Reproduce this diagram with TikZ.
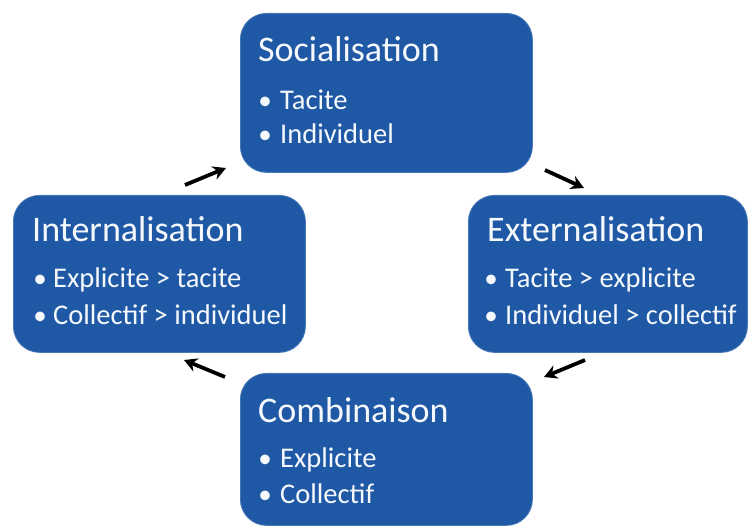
\documentclass[tikz,border=0pt]{standalone}
\usepackage{fontspec}
\setmainfont{Carlito}
\usetikzlibrary{arrows.meta}
\definecolor{boxblue}{RGB}{31,89,165}
\definecolor{boxedge}{RGB}{70,120,185}
\definecolor{textwhite}{RGB}{245,248,252}
% bullet drawn left of the text, centred #1/2 before the text start
\newcommand\bul[1]{\llap{\makebox[#1][c]{\scalebox{0.95}{\textbullet}}}}
\begin{document}
\begin{tikzpicture}[x=1pt,y=-1pt,
  stagebox/.style={draw=boxedge, line width=0.8pt, fill=boxblue, rounded corners=26pt, inner sep=0pt, anchor=north west},
  titletext/.style={anchor=base west, inner sep=0pt, text=textwhite, font=\fontsize{36}{40}\selectfont},
  itemtext/.style={anchor=base west, inner sep=0pt, text=textwhite, font=\fontsize{28.5}{32}\selectfont},
  cyclearrow/.style={line width=3.8pt, -{Stealth[length=13pt,width=14pt]}}]
\useasboundingbox (0,0) rectangle (748,526);
% boxes
\node[stagebox, minimum width=292pt, minimum height=159pt] (soc) at (240,13) {};
\node[stagebox, minimum width=292pt, minimum height=157pt] (int) at (13,195) {};
\node[stagebox, minimum width=279pt, minimum height=157pt] (ext) at (468,195) {};
\node[stagebox, minimum width=292pt, minimum height=152pt] (com) at (240,373) {};
% Socialisation
\node[titletext] (soct) at (258,62) {Socialisation};
\node[itemtext] (soc1) at (280,110) {\bul{30pt}Tacite};
\node[itemtext] (soc2) at (280,144) {\bul{30pt}Individuel};
% Internalisation
\node[titletext] (intt) at (32,242) {Internalisation};
\node[itemtext] (int1) at (53,288) {\bul{26pt}Explicite > tacite};
\node[itemtext] (int2) at (53,325) {\bul{26pt}Collectif > individuel};
% Externalisation
\node[titletext] (extt) at (487,242) {Externalisation};
\node[itemtext] (ext1) at (505,288) {\bul{28pt}Tacite > explicite};
\node[itemtext] (ext2) at (505,325) {\bul{28pt}Individuel > collectif};
% Combinaison
\node[titletext] (comt) at (258,423) {Combinaison};
\node[itemtext] (com1) at (280,468) {\bul{30pt}Explicite};
\node[itemtext] (com2) at (280,504) {\bul{30pt}Collectif};
% arrows
\coordinate (a1s) at (185,185); \coordinate (a1e) at (226,168);
\coordinate (a2s) at (545,170); \coordinate (a2e) at (584,188);
\coordinate (a3s) at (585,360); \coordinate (a3e) at (544,377);
\coordinate (a4s) at (225,377); \coordinate (a4e) at (184,360);
\draw[cyclearrow] (a1s) -- (a1e);
\draw[cyclearrow] (a2s) -- (a2e);
\draw[cyclearrow] (a3s) -- (a3e);
\draw[cyclearrow] (a4s) -- (a4e);
\end{tikzpicture}
\end{document}
